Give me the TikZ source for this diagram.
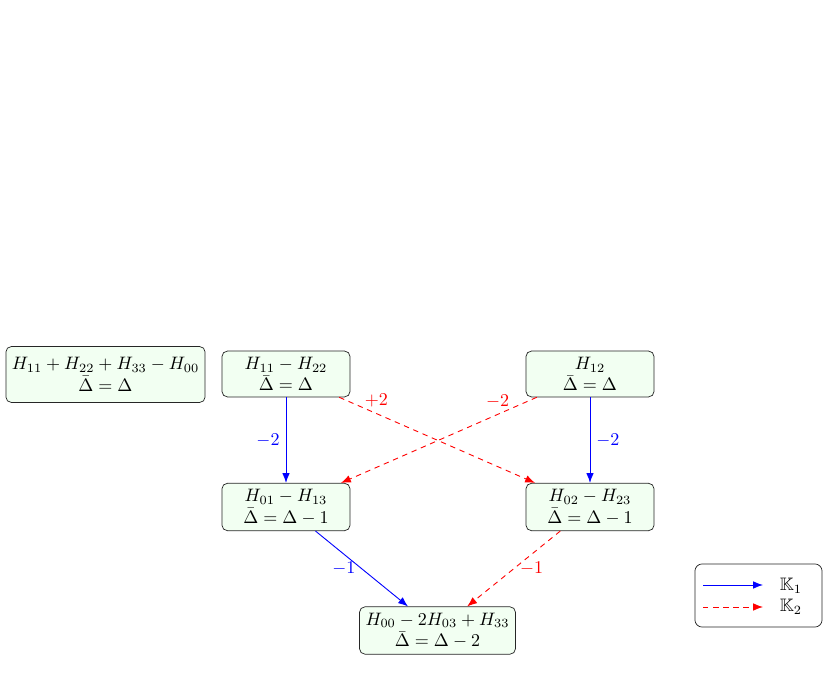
\documentclass[tikz,border=0pt]{standalone}
\usepackage{amssymb}
\usetikzlibrary{arrows.meta}
\begin{document}
\begin{tikzpicture}[x=0.5545pt,y=-0.5545pt,
  box/.style={draw=black!85, fill=green!5, rounded corners=3pt, align=center,
              inner xsep=3.33pt, inner ysep=3.3pt, minimum width=71pt},
  k1/.style={draw=blue, line width=0.5pt, -{Latex[length=5.5pt,width=4.2pt]}},
  k2/.style={draw=red, line width=0.5pt, dash pattern=on 3pt off 2.6pt, -{Latex[length=5.5pt,width=4.2pt]}},
  bl/.style={text=blue},
  rl/.style={text=red}
]
\useasboundingbox (0,0) rectangle (829,679);
\node[box, minimum height=31pt] (a) at (105.5,374.5) {$H_{11}+H_{22}+H_{33}-H_{00}$\\$\bar\Delta=\Delta$};
\node[box] (b) at (286,374) {$H_{11}-H_{22}$\\$\bar\Delta=\Delta$};
\node[box] (c) at (590,374) {$H_{12}$\\$\bar\Delta=\Delta$};
\node[box] (d) at (286,507) {$H_{01}-H_{13}$\\$\bar\Delta=\Delta-1$};
\node[box] (e) at (590,507) {$H_{02}-H_{23}$\\$\bar\Delta=\Delta-1$};
\node[box] (f) at (437.5,630.5) {$H_{00}-2H_{03}+H_{33}$\\$\bar\Delta=\Delta-2$};

\draw[k1] (b) -- node[left, bl]{$-2$} (d);
\draw[k1] (c) -- node[right, bl]{$-2$} (e);
\draw[k2] (b) -- node[pos=0.19, above, rl]{$+2$} (e);
\draw[k2] (c) -- node[pos=0.2, above, rl]{$-2$} (d);
\draw[k1] (d) -- node[left, bl]{$-1$} (f);
\draw[k2] (e) -- node[right, rl]{$-1$} (f);

% legend
\node[draw=black!85, fill=white, rounded corners=4pt, minimum width=70.5pt, minimum height=35pt] (leg) at (758.5,595.5) {};
\coordinate (l1a) at (703,585);
\coordinate (l1b) at (763,585);
\coordinate (l2a) at (703,607);
\coordinate (l2b) at (763,607);
\draw[k1] (l1a) -- (l1b);
\draw[k2] (l2a) -- (l2b);
\node (t1) at (791,586) {$\mathbb{K}_1$};
\node (t2) at (791,607) {$\mathbb{K}_2$};
\end{tikzpicture}
\end{document}
